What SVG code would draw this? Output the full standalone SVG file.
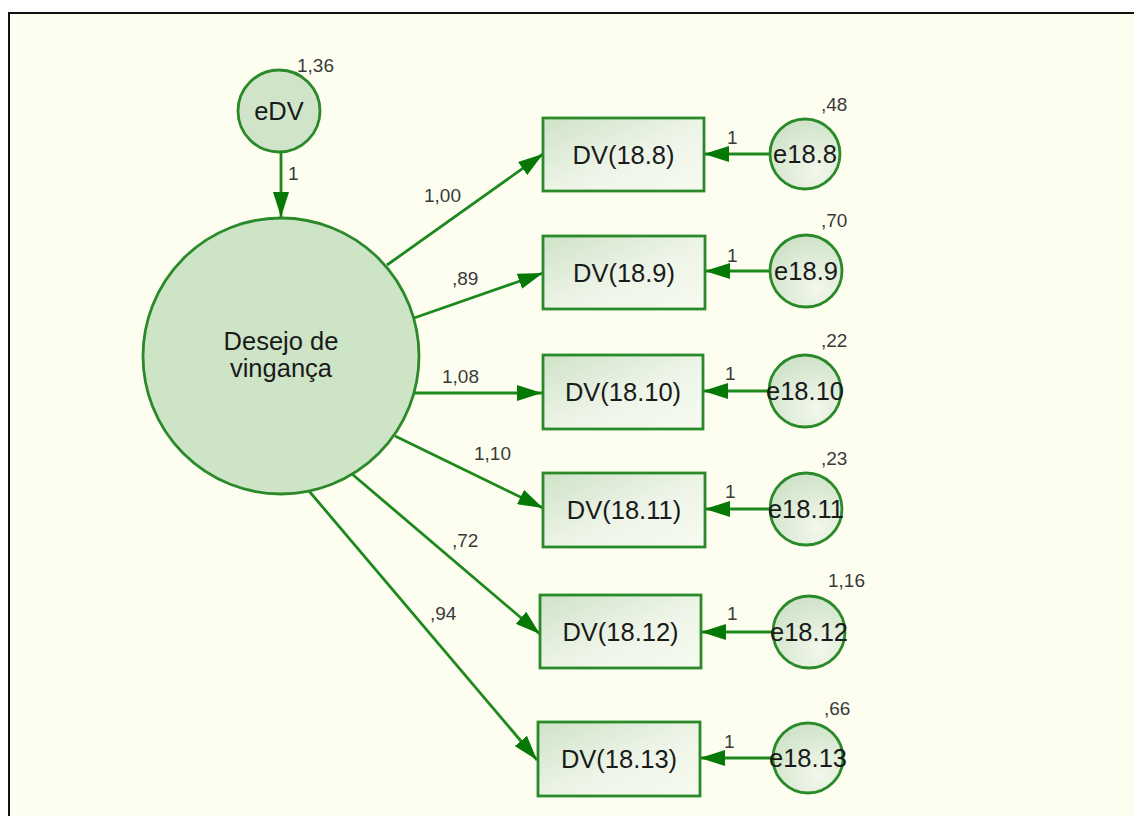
<svg xmlns="http://www.w3.org/2000/svg" width="1134" height="816" viewBox="0 0 1134 816">
  <style>
    .lbl { font-family: "Liberation Sans", Arial, sans-serif; font-size: 25.5px; fill: #1a1a1a; text-anchor: middle; }
    .num { font-family: "Liberation Sans", Arial, sans-serif; font-size: 19px; fill: #3a3a3a; }
    .edge { stroke: #1d891d; stroke-width: 2.8; fill: none; }
    .shape { stroke: #2a8a2a; stroke-width: 2.8; }
  </style>
  <defs>
    <marker id="head" viewBox="0 0 25 16" refX="25" refY="8" markerWidth="25" markerHeight="16" markerUnits="userSpaceOnUse" orient="auto">
      <path d="M0,0 L25,8 L0,16 Z" fill="#057805"/>
    </marker>
    <linearGradient id="boxFill" x1="0" y1="0" x2="1" y2="1">
      <stop offset="0" stop-color="#cfe2c8"/>
      <stop offset="0.55" stop-color="#eef5e8"/>
      <stop offset="1" stop-color="#f7faf0"/>
    </linearGradient>
    <radialGradient id="errFill" cx="0.65" cy="0.75" r="0.8">
      <stop offset="0" stop-color="#f3f8ec"/>
      <stop offset="1" stop-color="#cde2c6"/>
    </radialGradient>
  </defs>

  <!-- canvas and frame -->
  <rect x="0" y="0" width="1134" height="816" fill="#ffffff"/>
  <rect x="9" y="13" width="1125" height="803" fill="#fdfef0"/>
  <line x1="8" y1="13" x2="1134" y2="13" stroke="#111" stroke-width="2"/>
  <line x1="9" y1="12" x2="9" y2="816" stroke="#111" stroke-width="2"/>

  <!-- connectors -->
  <g id="connectors">
    <line class="edge" x1="281" y1="152" x2="281" y2="217" marker-end="url(#head)"/>
    <line class="edge" x1="387" y1="265" x2="543" y2="154" marker-end="url(#head)"/>
    <line class="edge" x1="414" y1="318" x2="543" y2="273" marker-end="url(#head)"/>
    <line class="edge" x1="414" y1="393" x2="542" y2="393" marker-end="url(#head)"/>
    <line class="edge" x1="395" y1="436" x2="543" y2="508" marker-end="url(#head)"/>
    <line class="edge" x1="352" y1="474" x2="540" y2="634" marker-end="url(#head)"/>
    <line class="edge" x1="309" y1="491" x2="537" y2="760" marker-end="url(#head)"/>
    <line class="edge" x1="770" y1="154" x2="704" y2="154" marker-end="url(#head)"/>
    <line class="edge" x1="770" y1="271" x2="705" y2="271" marker-end="url(#head)"/>
    <line class="edge" x1="769" y1="391" x2="703" y2="391" marker-end="url(#head)"/>
    <line class="edge" x1="770" y1="509" x2="705" y2="509" marker-end="url(#head)"/>
    <line class="edge" x1="773" y1="632" x2="701" y2="632" marker-end="url(#head)"/>
    <line class="edge" x1="772" y1="758" x2="700" y2="758" marker-end="url(#head)"/>
    <text class="num" x="288" y="180">1</text>
    <text class="num" x="424" y="202">1,00</text>
    <text class="num" x="452" y="285">,89</text>
    <text class="num" x="442" y="383">1,08</text>
    <text class="num" x="474" y="460">1,10</text>
    <text class="num" x="452" y="547">,72</text>
    <text class="num" x="430" y="620">,94</text>
    <text class="num" x="727" y="144">1</text>
    <text class="num" x="727" y="262">1</text>
    <text class="num" x="725" y="380">1</text>
    <text class="num" x="725" y="498">1</text>
    <text class="num" x="727" y="620">1</text>
    <text class="num" x="724" y="748">1</text>
  </g>

  <!-- latent factor and its disturbance -->
  <g id="eDV">
    <circle class="shape" cx="279" cy="111" r="41" fill="#cfe4c8"/>
    <text class="lbl" x="279" y="120">eDV</text>
    <text class="num" x="297" y="72">1,36</text>
  </g>
  <g id="desejo">
    <circle class="shape" cx="281" cy="356" r="138" fill="#cde4c6"/>
    <text class="lbl" x="281" y="350">Desejo de</text>
    <text class="lbl" x="281" y="377">vingança</text>
  </g>

  <!-- observed items -->
  <g id="dv188">
    <rect class="shape" x="543" y="118" width="161" height="73" fill="url(#boxFill)"/>
    <text class="lbl" x="623.5" y="164">DV(18.8)</text>
  </g>
  <g id="dv189">
    <rect class="shape" x="543" y="236" width="162" height="73" fill="url(#boxFill)"/>
    <text class="lbl" x="624" y="282">DV(18.9)</text>
  </g>
  <g id="dv1810">
    <rect class="shape" x="543" y="355" width="160" height="74" fill="url(#boxFill)"/>
    <text class="lbl" x="623" y="401">DV(18.10)</text>
  </g>
  <g id="dv1811">
    <rect class="shape" x="543" y="473" width="162" height="74" fill="url(#boxFill)"/>
    <text class="lbl" x="624" y="519">DV(18.11)</text>
  </g>
  <g id="dv1812">
    <rect class="shape" x="540" y="595" width="161" height="73" fill="url(#boxFill)"/>
    <text class="lbl" x="620.5" y="641">DV(18.12)</text>
  </g>
  <g id="dv1813">
    <rect class="shape" x="538" y="722" width="162" height="74" fill="url(#boxFill)"/>
    <text class="lbl" x="619" y="768">DV(18.13)</text>
  </g>

  <!-- item residuals -->
  <g id="e188">
    <circle class="shape" cx="805" cy="154" r="35" fill="url(#errFill)"/>
    <text class="lbl" x="805" y="163">e18.8</text>
    <text class="num" x="821" y="111">,48</text>
  </g>
  <g id="e189">
    <circle class="shape" cx="806" cy="271" r="36" fill="url(#errFill)"/>
    <text class="lbl" x="806" y="280">e18.9</text>
    <text class="num" x="821" y="227">,70</text>
  </g>
  <g id="e1810">
    <circle class="shape" cx="805" cy="391" r="36" fill="url(#errFill)"/>
    <text class="lbl" x="805" y="400">e18.10</text>
    <text class="num" x="821" y="347">,22</text>
  </g>
  <g id="e1811">
    <circle class="shape" cx="806" cy="509" r="36" fill="url(#errFill)"/>
    <text class="lbl" x="806" y="518">e18.11</text>
    <text class="num" x="821" y="465">,23</text>
  </g>
  <g id="e1812">
    <circle class="shape" cx="809" cy="632" r="36" fill="url(#errFill)"/>
    <text class="lbl" x="809" y="641">e18.12</text>
    <text class="num" x="828" y="587">1,16</text>
  </g>
  <g id="e1813">
    <circle class="shape" cx="808" cy="758" r="35" fill="url(#errFill)"/>
    <text class="lbl" x="808" y="767">e18.13</text>
    <text class="num" x="824" y="715">,66</text>
  </g>
</svg>
